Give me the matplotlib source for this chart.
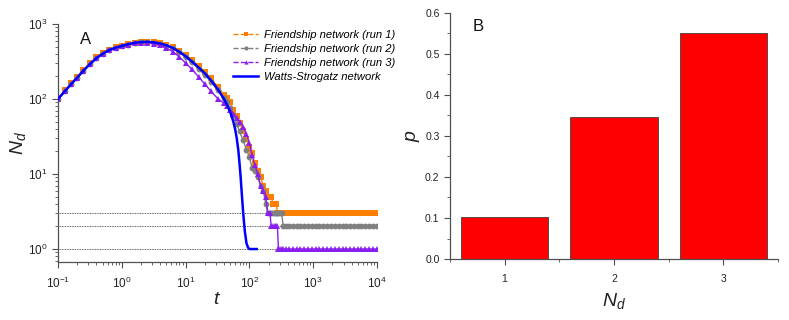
import numpy as np
import matplotlib
matplotlib.use("Agg")
import matplotlib.pyplot as plt
from matplotlib.lines import Line2D
from matplotlib.ticker import LogLocator, MultipleLocator, NullFormatter, FormatStrFormatter

plt.rcParams['font.family'] = ['Liberation Sans', 'DejaVu Sans']
plt.rcParams['mathtext.fontset'] = 'custom'
plt.rcParams['mathtext.rm'] = 'Liberation Sans'
plt.rcParams['mathtext.it'] = 'Liberation Sans:italic'

# panel A: friendship network runs, shared sampling times
t_fr = [0.1, 0.13, 0.16, 0.2, 0.25, 0.32, 0.4, 0.5, 0.63, 0.8,
        1.0, 1.25, 1.6, 2.0, 2.5, 3.2, 4.0, 5.0, 6.3, 8.0,
        10, 12.5, 16, 20, 25, 32, 40, 45, 50, 56,
        63, 70, 80, 90, 100, 110, 122, 135, 150, 165,
        180, 195, 210, 220, 235, 250, 265, 275, 285, 300,
        320, 340, 370, 420, 480, 550, 630, 720, 830, 950,
        1100, 1250, 1450, 1650, 1900, 2200, 2500, 2900, 3300, 3800,
        4300, 5000, 5700, 6500, 7500, 8600, 10000]
n_run1 = [100, 131, 161, 199, 246, 306, 360, 410, 455, 490,
          515, 540, 562, 576, 580, 575, 556, 526, 487, 432,
          382, 327, 272, 228, 188, 145, 114, 104, 90, 72,
          60, 48, 37, 29, 23, 19, 14, 11, 9, 7,
          6, 5, 5, 5, 4, 4, 4, 3, 3, 3,
          3, 3, 3, 3, 3, 3, 3, 3, 3, 3,
          3, 3, 3, 3, 3, 3, 3, 3, 3, 3,
          3, 3, 3, 3, 3, 3, 3]
n_run2 = [100, 129, 157, 193, 238, 294, 350, 400, 445, 480,
          505, 532, 556, 570, 574, 566, 546, 515, 474, 418,
          362, 308, 252, 210, 170, 130, 103, 90, 76, 62,
          47, 37, 28, 21, 17, 12, 11, 9, 7, 6,
          4, 3, 3, 3, 3, 3, 3, 3, 3, 3,
          3, 2, 2, 2, 2, 2, 2, 2, 2, 2,
          2, 2, 2, 2, 2, 2, 2, 2, 2, 2,
          2, 2, 2, 2, 2, 2, 2]
n_run3 = [100, 129, 157, 193, 238, 294, 350, 400, 445, 480,
          505, 530, 552, 565, 565, 548, 518, 478, 428, 365,
          302, 250, 197, 158, 127, 101, 88, 80, 72, 64,
          56, 50, 43, 34, 26, 18, 13, 10, 7, 6,
          5, 3, 3, 2, 2, 2, 2, 2, 1, 1,
          1, 1, 1, 1, 1, 1, 1, 1, 1, 1,
          1, 1, 1, 1, 1, 1, 1, 1, 1, 1,
          1, 1, 1, 1, 1, 1, 1]

# Watts-Strogatz network
t_ws = [0.1, 0.13, 0.16, 0.2, 0.25, 0.32, 0.4, 0.5, 0.63, 0.8,
        1.0, 1.25, 1.6, 2.0, 2.5, 3.2, 4.0, 5.0, 6.3, 8.0,
        10, 12.5, 16, 20, 25, 32, 40, 45, 50, 56,
        60, 63, 67, 70, 73, 76, 80, 85, 90, 95,
        100, 115, 130]
n_ws = [100, 129, 157, 193, 238, 294, 350, 402, 448, 485,
        510, 538, 562, 575, 578, 570, 550, 520, 480, 425,
        372, 318, 263, 220, 178, 135, 100, 83, 67, 50,
        39, 31, 21, 14, 9, 5.5, 3.0, 1.7, 1.2, 1.05,
        1.0, 1.0, 1.0]

levels = [1, 2, 3]

# panel B
nd_vals = [1, 2, 3]
p_vals = [0.103, 0.347, 0.55]

labels = ['Friendship network (run 1)', 'Friendship network (run 2)',
          'Friendship network (run 3)', 'Watts-Strogatz network']
colors = ['#ff8000', '#808080', '#8a1ef0', '#0000ff']
markers = ['s', 'o', '^']

spine_c = '#505050'
text_c = '#222222'

fig = plt.figure(figsize=(7.89, 3.2), dpi=100)
ax1 = fig.add_axes([0.0735, 0.181, 0.4043, 0.744])
ax2 = fig.add_axes([0.5703, 0.1906, 0.4157, 0.769])

# ---- panel A
ax1.hlines(levels, 0.1, 1e4, colors='#333333', linestyles=(0, (1, 1)), lw=0.6, zorder=1)
for n, c, m in zip([n_run1, n_run2, n_run3], colors[:3], markers):
    ax1.plot(t_fr, n, color=c, lw=1.0, marker=m, ms=4.2, mew=0, zorder=2)
ax1.plot(t_ws, n_ws, color=colors[3], lw=1.8, zorder=3)

ax1.set_xscale('log')
ax1.set_yscale('log')
ax1.set_xlim(0.1, 1e4)
ax1.set_ylim(0.67, 1000)
ax1.xaxis.set_major_locator(LogLocator(base=10, numticks=10))
ax1.xaxis.set_minor_locator(LogLocator(base=10, subs=np.arange(2, 10), numticks=20))
ax1.yaxis.set_major_locator(LogLocator(base=10, numticks=10))
ax1.yaxis.set_minor_locator(LogLocator(base=10, subs=np.arange(2, 10), numticks=20))
ax1.xaxis.set_minor_formatter(NullFormatter())
ax1.yaxis.set_minor_formatter(NullFormatter())
ax1.set_xlabel('$t$', fontsize=14, color=text_c, labelpad=0)
ax1.set_ylabel('$N_d$', fontsize=14, color=text_c, labelpad=0)
ax1.text(0.07, 0.965, 'A', transform=ax1.transAxes, fontsize=12, va='top', color='#111111')

handles = [Line2D([], [], color=c, ls='--', lw=1, marker=m, ms=3, mew=0)
           for c, m in zip(colors[:3], markers)]
handles.append(Line2D([], [], color=colors[3], lw=1.8))
ax1.legend(handles, labels, loc='upper left', bbox_to_anchor=(0.535, 0.993),
           frameon=False, borderaxespad=0, handlelength=2.2, handletextpad=0.5,
           labelspacing=0.35, prop={'style': 'italic', 'size': 8.1})

# ---- panel B
ax2.bar(nd_vals, p_vals, width=0.8, color='#ff0000', edgecolor='#404040', lw=0.6)
ax2.set_xlim(0.5, 3.5)
ax2.set_ylim(0, 0.6)
ax2.set_xticks(nd_vals)
ax2.xaxis.set_minor_locator(MultipleLocator(0.5))
ax2.yaxis.set_major_locator(MultipleLocator(0.1))
ax2.yaxis.set_minor_locator(MultipleLocator(0.05))
ax2.yaxis.set_major_formatter(FormatStrFormatter('%.1f'))
ax2.set_xlabel('$N_d$', fontsize=14, color=text_c, labelpad=5)
ax2.set_ylabel('$p$', fontsize=14, color=text_c, labelpad=2)
ax2.text(0.07, 0.975, 'B', transform=ax2.transAxes, fontsize=12, va='top', color='#111111')

for ax in (ax1, ax2):
    for s in ('top', 'right'):
        ax.spines[s].set_visible(False)
    for s in ('left', 'bottom'):
        ax.spines[s].set_color(spine_c)
        ax.spines[s].set_linewidth(0.9)
    ax.tick_params(which='both', direction='out', colors=spine_c, labelcolor=text_c)
    ax.tick_params(which='major', length=4, width=0.8)
    ax.tick_params(which='minor', length=2.2, width=0.6)
ax1.tick_params(which='major', labelsize=8.5)
ax1.tick_params(axis='x', which='major', pad=6)
ax2.tick_params(which='major', labelsize=7.5)
ax2.tick_params(axis='x', which='major', pad=7)

fig.savefig('out.png', dpi=100)
